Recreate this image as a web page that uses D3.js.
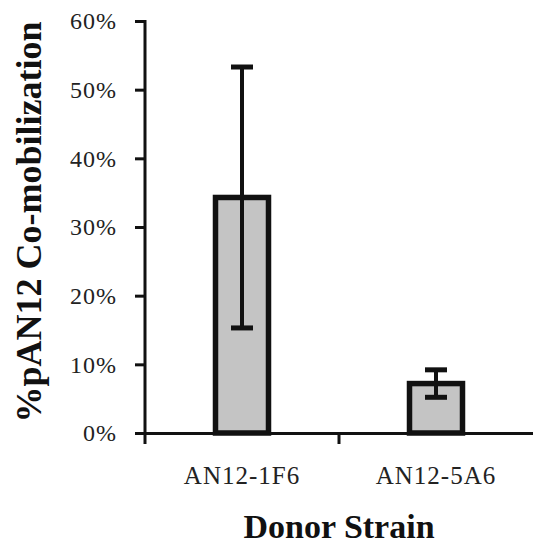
<!DOCTYPE html>
<html>
<head>
<meta charset="utf-8">
<script src="https://cdn.jsdelivr.net/npm/d3@7"></script>
<style>
  body { margin: 0; background: #fff; }
  text { font-family: "Liberation Serif", "Times New Roman", serif; fill: #111; }
</style>
</head>
<body>
<div id="chart"></div>
<script>
// data
var strains = ["AN12-1F6", "AN12-5A6"];
var means = [34.3, 7.2];
var errs = [19.0, 2.0];
var yTicks = [0, 10, 20, 30, 40, 50, 60];

var width = 533, height = 544;
var margin = { top: 21, right: 0, bottom: 111, left: 145 };

var svg = d3.select('#chart').append('svg')
    .attr('width', width)
    .attr('height', height);

var x = d3.scaleBand()
    .domain(strains)
    .range([margin.left, width - margin.right])
    .paddingInner(0)
    .paddingOuter(0);

var y = d3.scaleLinear()
    .domain([0, 60])
    .range([height - margin.bottom, margin.top]);

var barW = 53;

// bars
svg.selectAll('rect.bar')
    .data(strains)
    .enter().append('rect')
    .attr('class', 'bar')
    .attr('x', function(d) { return x(d) + x.bandwidth() / 2 - barW / 2; })
    .attr('y', function(d, i) { return y(means[i]); })
    .attr('width', barW)
    .attr('height', function(d, i) { return y(0) - y(means[i]); })
    .style('fill', '#c4c4c4')
    .style('stroke', '#111')
    .style('stroke-width', 5.5);

// error bars
var eb = svg.selectAll('g.err')
    .data(strains)
    .enter().append('g')
    .attr('class', 'err')
    .attr('transform', function(d) { return 'translate(' + (x(d) + x.bandwidth() / 2) + ',0)'; });

eb.append('line')
    .attr('y1', function(d, i) { return y(means[i] + errs[i]); })
    .attr('y2', function(d, i) { return y(means[i] - errs[i]); })
    .style('stroke', '#111')
    .style('stroke-width', 4);

eb.selectAll('line.cap')
    .data(function(d, i) { return [means[i] + errs[i], means[i] - errs[i]]; })
    .enter().append('line')
    .attr('class', 'cap')
    .attr('x1', -11).attr('x2', 11)
    .attr('y1', function(v) { return y(v); })
    .attr('y2', function(v) { return y(v); })
    .style('stroke', '#111')
    .style('stroke-width', 5);

// y axis
var yAxis = svg.append('g')
    .attr('transform', 'translate(' + margin.left + ',0)')
    .call(d3.axisLeft(y).tickValues(yTicks).tickSize(10).tickSizeOuter(0)
        .tickFormat(function(d) { return d + '%'; }));
yAxis.select('.domain').style('stroke', '#111').style('stroke-width', 3)
    .attr('d', 'M0,' + (y(60) - 1) + 'V' + (y(0) + 11));
yAxis.selectAll('.tick line').style('stroke', '#111').style('stroke-width', 3);
yAxis.selectAll('.tick text')
    .attr('x', -28)
    .style('font-size', '24px')
    .style('letter-spacing', '1px')
    .style('font-family', '"Liberation Serif", serif')
    .style('fill', '#222');

// x axis
var xAxis = svg.append('g')
    .attr('transform', 'translate(0,' + y(0) + ')')
    .call(d3.axisBottom(x).tickSize(0).tickSizeOuter(0));
xAxis.select('.domain').style('stroke', '#111').style('stroke-width', 3);
xAxis.selectAll('.tick text')
    .attr('y', 33)
    .style('font-size', '25px')
    .style('letter-spacing', '1px')
    .style('font-family', '"Liberation Serif", serif')
    .style('fill', '#222');

// tick between the categories
svg.append('line')
    .attr('x1', x(strains[1])).attr('x2', x(strains[1]))
    .attr('y1', y(0)).attr('y2', y(0) + 11)
    .style('stroke', '#111')
    .style('stroke-width', 3);

// titles
svg.append('text')
    .attr('transform', 'translate(41,' + 222 + ') rotate(-90)')
    .style('text-anchor', 'middle')
    .style('font-size', '36px')
    .style('font-weight', 'bold')
    .text('%pAN12 Co-mobilization');

svg.append('text')
    .attr('x', x(strains[1]))
    .attr('y', 538)
    .style('text-anchor', 'middle')
    .style('font-size', '34px')
    .style('font-weight', 'bold')
    .text('Donor Strain');
</script>
</body>
</html>
